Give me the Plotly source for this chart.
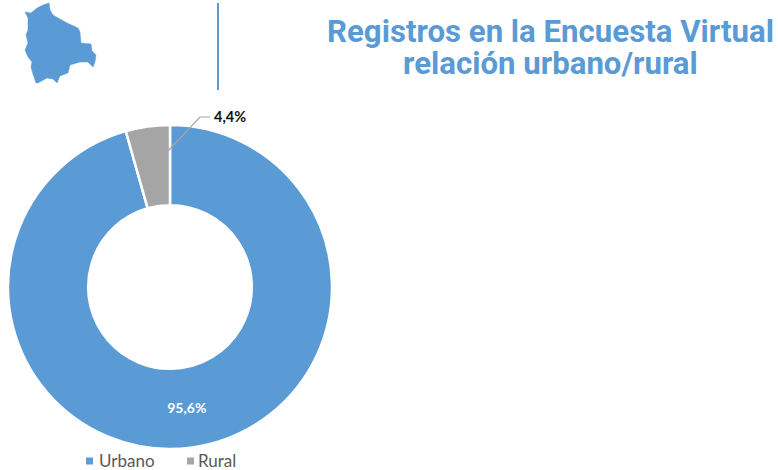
import plotly.graph_objects as go

W, H = 778, 470
categories = ["Urbano", "Rural"]
values = [95.6, 4.4]
colors = ["#5B9BD5", "#A5A5A5"]
slice_text = ["95,6%", ""]
outside_label = "4,4%"
title_lines = ["Registros en la Encuesta Virtual", "relación urbano/rural"]
legend_marker_x = [86, 187]
legend_text_x = [98, 197]

# Decorative logo outline (map of Bolivia), in page pixels
map_outline = [(25,12),(31,13),(37,8),(43,5),(49,3),(50,10),(53,15),(60,19),(67,23),(78,28),(80,32),
               (81,43),(91,44),(92,51),(96,55),(95,62),(93,67),(88,62),(80,62),(70,65),(68,73),(60,76),
               (57,83),(53,79),(47,78),(38,83),(36,83),(33,74),(31,67),(32,62),(28,57),(25,50),(28,43),
               (26,35),(28,30),(28,18)]


def px(x):
    return x / W


def py(y):
    return 1 - y / H


def path(points, close=False):
    body = " L ".join(f"{px(x):.4f},{py(y):.4f}" for x, y in points)
    return "M " + body + (" Z" if close else "")


fig = go.Figure(go.Pie(
    labels=categories,
    values=values,
    hole=0.505,
    sort=False,
    direction="clockwise",
    rotation=0,
    marker=dict(colors=colors, line=dict(color="white", width=2.5)),
    text=slice_text,
    textinfo="text",
    textposition="inside",
    insidetextorientation="horizontal",
    insidetextfont=dict(family="Lato", size=14, color="white", weight="bold"),
    hoverinfo="label+percent",
    showlegend=False,
    domain=dict(x=[px(8), px(332)], y=[py(449), py(125)]),
))

shapes = [
    dict(type="path", xref="paper", yref="paper", path=path(map_outline, True),
         fillcolor="#5B9BD5", line=dict(color="#5B9BD5", width=0.5)),
    dict(type="line", xref="paper", yref="paper", x0=px(218), x1=px(218), y0=py(3), y1=py(90),
         line=dict(color="#5B9BD5", width=2)),
    dict(type="path", xref="paper", yref="paper", path=path([(168, 151), (200, 117), (210, 117)]),
         line=dict(color="#A5A5A5", width=1.2)),
]
annotations = [
    dict(text=title_lines[0], xref="paper", yref="paper", x=px(550.5), y=py(32), xanchor="center",
         yanchor="middle", showarrow=False, font=dict(family="Roboto", size=31.2, color="#5B9BD5", weight="bold")),
    dict(text=title_lines[1], xref="paper", yref="paper", x=px(550.5), y=py(63), xanchor="center",
         yanchor="middle", showarrow=False, font=dict(family="Roboto", size=31.2, color="#5B9BD5", weight="bold")),
    dict(text=outside_label, xref="paper", yref="paper", x=px(212), y=py(117), xanchor="left",
         yanchor="middle", showarrow=False, font=dict(family="Lato", size=14.5, color="#111111", weight="bold")),
]
for name, colour, mx, tx in zip(categories, colors, legend_marker_x, legend_text_x):
    shapes.append(dict(type="rect", xref="paper", yref="paper", x0=px(mx), x1=px(mx + 7),
                       y0=py(464.5), y1=py(457.5), fillcolor=colour, line=dict(width=0)))
    annotations.append(dict(text=name, xref="paper", yref="paper", x=px(tx), y=py(460.5), xanchor="left",
                            yanchor="middle", showarrow=False, borderpad=0,
                            font=dict(family="Lato", size=17, color="#595959")))

fig.update_layout(
    width=W, height=H,
    margin=dict(l=0, r=0, t=0, b=0, autoexpand=False),
    paper_bgcolor="white",
    plot_bgcolor="white",
    showlegend=False,
    shapes=shapes,
    annotations=annotations,
)

fig.write_html("out.html", config=dict(displayModeBar=False),
               post_script="document.body.style.margin='0';")
